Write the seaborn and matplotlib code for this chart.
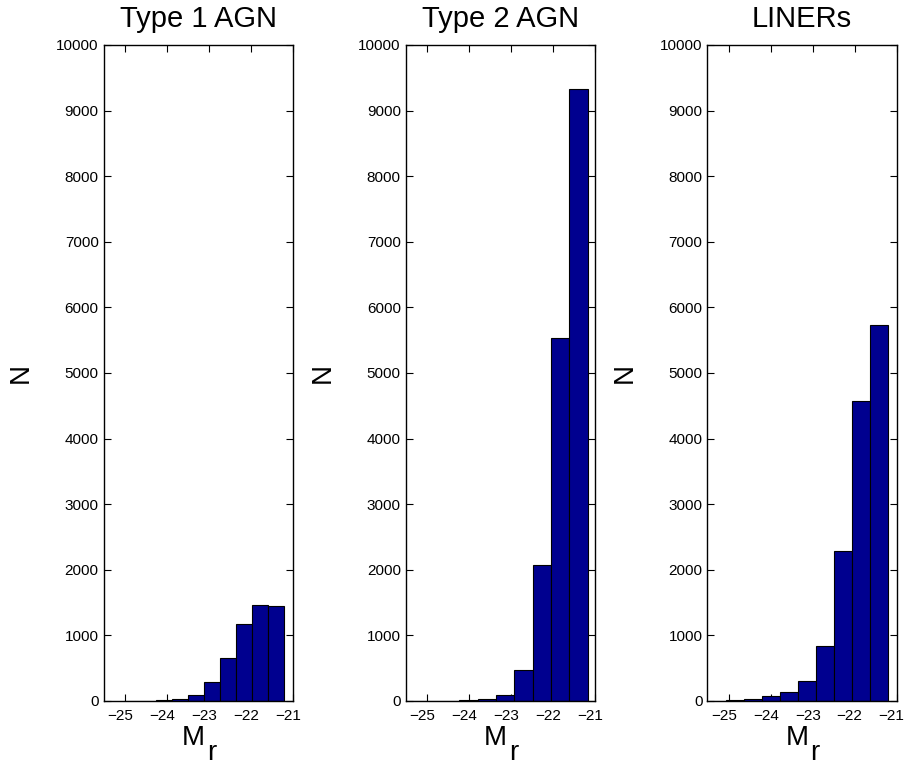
import numpy as np
import pandas as pd
import seaborn as sns
from matplotlib import pyplot as plt
from matplotlib.transforms import ScaledTranslation

# bin counts (10 bins each, left to right)
titles = ['Type 1 AGN', 'Type 2 AGN', 'LINERs']
type1_counts = [1, 2, 10, 30, 91, 295, 650, 1174, 1463, 1443]
type2_counts = [1, 2, 4, 8, 30, 91, 468, 2078, 5529, 9330]
liner_counts = [3, 10, 30, 76, 142, 310, 838, 2291, 4569, 5726]
# histogram range (M_r) of each panel
bin_ranges = [(-25.02, -21.21), (-25.55, -21.17), (-25.49, -21.21)]
x_ticks = [-25, -24, -23, -22, -21]
y_ticks = list(range(0, 10001, 1000))

sns.set_style("ticks")
plt.rcParams['font.family'] = ['Liberation Sans', 'DejaVu Sans']
for key in ['text.color', 'axes.labelcolor', 'xtick.color',
            'ytick.color', 'axes.edgecolor']:
    plt.rcParams[key] = 'black'
plt.rcParams['axes.linewidth'] = 1.0

fig = plt.figure(figsize=(9.06, 7.64), dpi=100)
W, H = 906, 764
lefts = [103.5, 405.7, 707.3]
width, top, bottom = 189.2, 45, 701
# matlab puts the x tick labels a little left of the ticks
shift = ScaledTranslation(-5 / 100, 0, fig.dpi_scale_trans)

for left, title, counts, (lo, hi) in zip(lefts, titles,
                                         [type1_counts, type2_counts, liner_counts],
                                         bin_ranges):
    ax = fig.add_axes([left / W, (H - bottom) / H, width / W, (bottom - top) / H])
    edges = np.linspace(lo, hi, len(counts) + 1)
    df = pd.DataFrame({'Mr': (edges[:-1] + edges[1:]) / 2, 'N': counts})
    sns.histplot(data=df, x='Mr', weights='N', bins=list(edges), ax=ax,
                 color='#00008F', edgecolor='black', linewidth=0.8, alpha=1)
    ax.set_xlim(-25.52, -21.0)
    ax.set_ylim(0, 10000)
    ax.set_xticks(x_ticks)
    ax.set_yticks(y_ticks)
    ax.tick_params(direction='in', top=True, right=True, length=5,
                   labelsize=11, width=0.8)
    ax.tick_params(axis='x', pad=6)
    ax.tick_params(axis='y', pad=3.5)
    for lab in ax.get_xticklabels():
        lab.set_transform(lab.get_transform() + shift)
    ax.set_title(title, fontsize=21, pad=13)
    ax.set_ylabel('N', fontsize=20, labelpad=16)
    # M with a full size subscript r, like the matlab label
    ax.set_xlabel('M', fontsize=20, labelpad=1)
    ax.xaxis.label.set_x(0.5 - 5 / width)
    ax.annotate('r', xy=(1, 0), xycoords=ax.xaxis.label,
                xytext=(1.5, -11), textcoords='offset points',
                ha='left', va='bottom', fontsize=20)
    for s in ax.spines.values():
        s.set_visible(True)

fig.savefig('out.png', dpi=100)
